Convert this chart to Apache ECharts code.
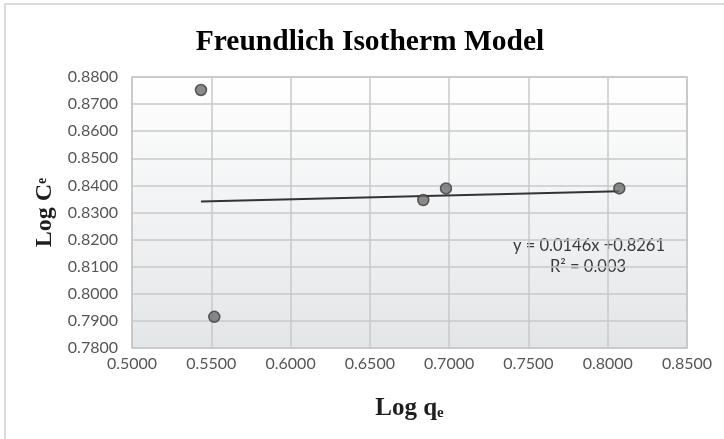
<!DOCTYPE html>
<html>
<head>
<meta charset="utf-8">
<script src="https://cdn.jsdelivr.net/npm/echarts@6/dist/echarts.min.js"></script>
<style>
  html, body { margin: 0; padding: 0; background: #fff; }
  #chart { width: 724px; height: 439px; }
</style>
</head>
<body>
<div id="chart"></div>
<script>
// Measured points: log qe (x) against log Ce (y)
const logQe = [0.5435, 0.5519, 0.6837, 0.6980, 0.8073];
const logCe = [0.8752, 0.7915, 0.8346, 0.8389, 0.8389];

// Linear trend line as reported
const slope = 0.0146;
const intercept = 0.8261;
const rSquared = '0.003';

// Axis ranges and steps
const xRange = [0.5, 0.85, 0.05];
const yRange = [0.78, 0.88, 0.01];

const points = logQe.map((x, i) => [x, logCe[i]]);
const xLo = Math.min(...logQe), xHi = Math.max(...logQe);
const trend = [[xLo, slope * xLo + intercept], [xHi, slope * xHi + intercept]];

const chart = echarts.init(document.getElementById('chart'), null, { renderer: 'canvas' });

const labelFont = { fontFamily: 'Lato', fontSize: 16, color: '#555555' };
const serifBold = { fontFamily: 'Liberation Serif', fontWeight: 'bold', color: '#1e1e1e' };

chart.setOption({
  animation: false,
  backgroundColor: '#ffffff',
  title: {
    text: 'Freundlich Isotherm Model',
    left: 365,
    textAlign: 'center',
    top: 22,
    textStyle: Object.assign({ fontSize: 29.5 }, serifBold, { color: '#000' })
  },
  grid: {
    left: 132, right: 37, top: 77, bottom: 91,
    show: true,
    borderColor: '#bdbdbd',
    borderWidth: 1.5,
    backgroundColor: new echarts.graphic.LinearGradient(0, 0, 0, 1, [
      { offset: 0, color: '#ffffff' },
      { offset: 1, color: '#e3e6e8' }
    ])
  },
  xAxis: {
    type: 'value',
    min: xRange[0], max: xRange[1], interval: xRange[2],
    axisLine: { show: false },
    axisTick: { show: false },
    splitLine: { show: true, lineStyle: { color: '#c8c8c8', width: 1.5 } },
    axisLabel: Object.assign({ margin: 8, formatter: v => v.toFixed(4) }, labelFont),
    name: '{b|Log q}{s|e}',
    nameLocation: 'middle',
    nameGap: 47,
    nameTextStyle: {
      rich: {
        b: Object.assign({ fontSize: 25, lineHeight: 26, verticalAlign: 'bottom' }, serifBold),
        s: Object.assign({ fontSize: 15, lineHeight: 22, verticalAlign: 'bottom' }, serifBold)
      }
    }
  },
  yAxis: {
    type: 'value',
    min: yRange[0], max: yRange[1], interval: yRange[2],
    axisLine: { show: false },
    axisTick: { show: false },
    splitLine: { show: true, lineStyle: { color: '#c8c8c8', width: 1.5 } },
    axisLabel: Object.assign({ margin: 14, formatter: v => v.toFixed(4) }, labelFont),
    name: '{b|Log C}{s|e}',
    nameLocation: 'middle',
    nameRotate: 90,
    nameGap: 74,
    nameTextStyle: {
      rich: {
        b: Object.assign({ fontSize: 24, lineHeight: 26, verticalAlign: 'middle' }, serifBold),
        s: Object.assign({ fontSize: 14, lineHeight: 26, verticalAlign: 'top', padding: [3, 0, 0, 0] }, serifBold)
      }
    }
  },
  series: [
    {
      type: 'line',
      data: trend,
      showSymbol: false,
      lineStyle: { color: '#333333', width: 2 },
      z: 2
    },
    {
      type: 'scatter',
      data: points,
      symbol: 'circle',
      symbolSize: 11,
      itemStyle: { color: '#6e6e6e', borderColor: '#3a3a3a', borderWidth: 1.5 },
      z: 3
    }
  ],
  graphic: [
    {
      type: 'rect',
      shape: { x: 5, y: 4, width: 800, height: 500 },
      style: { fill: 'none', stroke: '#d0d0d0', lineWidth: 1.5 },
      silent: true
    },
    {
      type: 'text',
      x: 589, y: 246,
      style: {
        text: 'y = ' + slope.toFixed(4) + 'x +' + intercept.toFixed(4),
        fontFamily: 'Lato', fontSize: 16.5, fill: '#3a3a3a',
        align: 'center', verticalAlign: 'middle'
      }
    },
    {
      type: 'text',
      x: 588, y: 267,
      style: {
        text: 'R² = ' + rSquared,
        fontFamily: 'Lato', fontSize: 16.5, fill: '#3a3a3a',
        align: 'center', verticalAlign: 'middle'
      }
    }
  ]
});
</script>
</body>
</html>
